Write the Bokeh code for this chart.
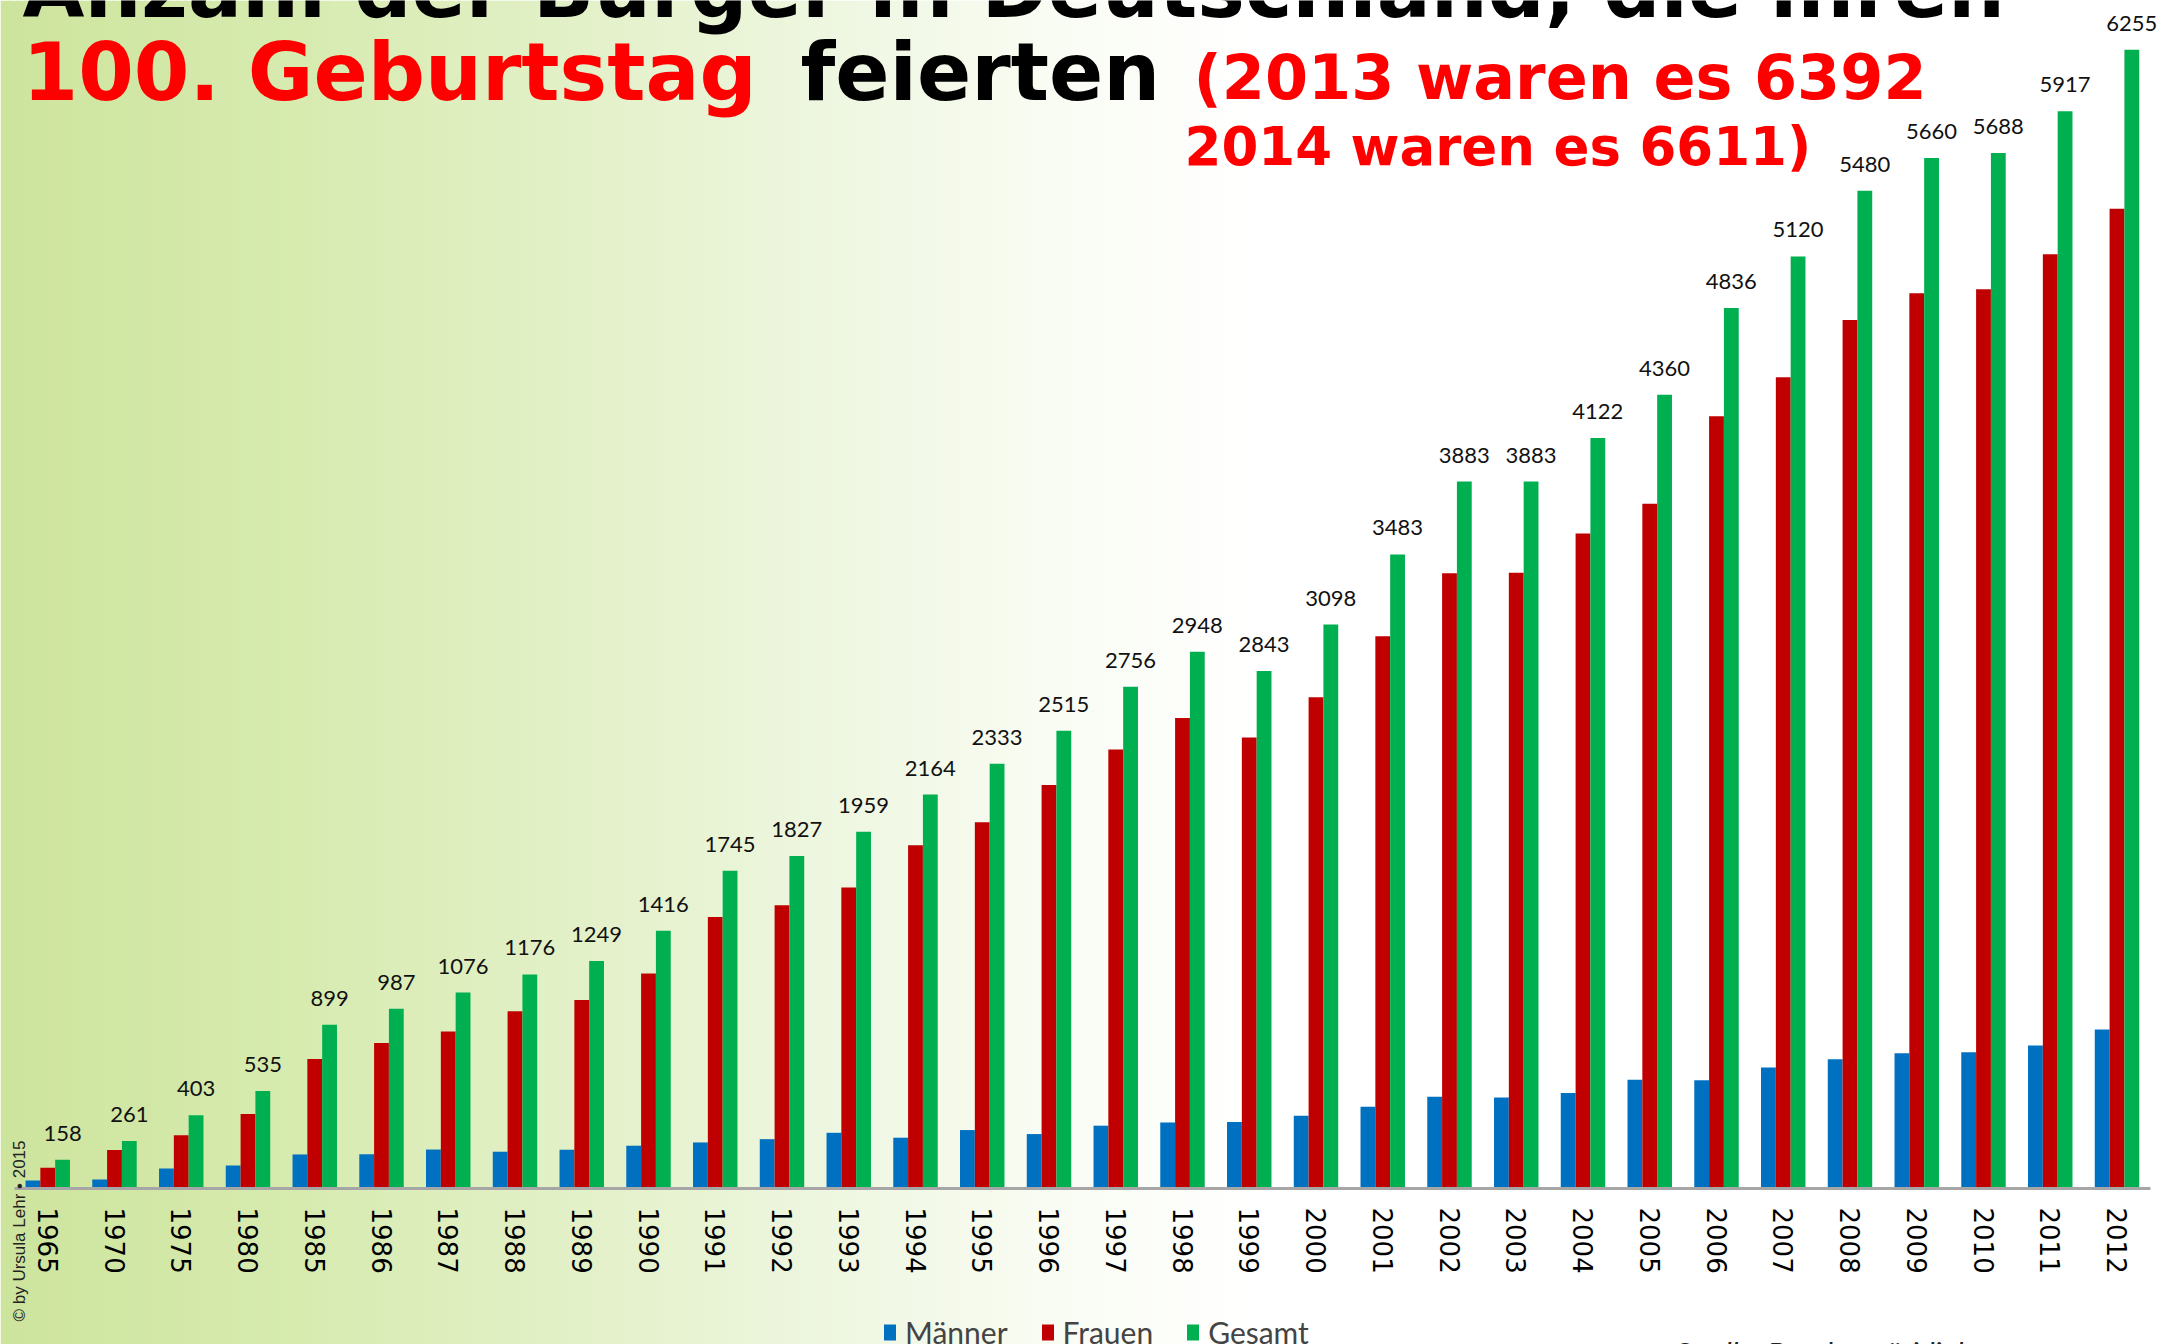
import math
from bokeh.plotting import figure
from bokeh.models import (ColumnDataSource, Range1d, FixedTicker, LabelSet, Label,
                          Legend, LegendItem)
from bokeh.core.properties import value
from bokeh.transform import dodge
from bokeh.embed import file_html
from bokeh.resources import INLINE

# ---------------- data ----------------
years = ["1965", "1970", "1975", "1980", "1985", "1986", "1987", "1988", "1989", "1990",
         "1991", "1992", "1993", "1994", "1995", "1996", "1997", "1998", "1999", "2000",
         "2001", "2002", "2003", "2004", "2005", "2006", "2007", "2008", "2009", "2010",
         "2011", "2012"]
gesamt = [158, 261, 403, 535, 899, 987, 1076, 1176, 1249, 1416,
          1745, 1827, 1959, 2164, 2333, 2515, 2756, 2948, 2843, 3098,
          3483, 3883, 3883, 4122, 4360, 4836, 5120, 5480, 5660, 5688,
          5917, 6255]
maenner = [44, 50, 110, 126, 187, 188, 214, 202, 213, 235,
           253, 271, 306, 279, 321, 299, 345, 363, 365, 400,
           449, 504, 500, 524, 598, 594, 664, 710, 743, 748,
           785, 873]
frauen = [114, 211, 293, 409, 712, 799, 862, 974, 1036, 1181,
          1492, 1556, 1653, 1885, 2012, 2216, 2411, 2585, 2478, 2698,
          3034, 3379, 3383, 3598, 3762, 4242, 4456, 4770, 4917, 4940,
          5132, 5382]
series_names = ["Männer", "Frauen", "Gesamt"]
title_line1 = "Anzahl der Bürger in Deutschland, die ihren"
title_red = "100. Geburtstag"
title_black = "feierten"
note_line1 = "(2013 waren es 6392"
note_line2 = "2014  waren es 6611)"
copyright_text = "© by Ursula Lehr • 2015"
source_text = "Quelle: Bundespräsidialamt"

# ---------------- layout ----------------
W, H = 2161, 1344
STEP = 66.75            # px per category
X0 = 47.25              # px of first category centre
Y_BASE = 1188           # px of baseline from top
UPP = 5.493             # data units per px

x_start = -X0 / STEP
x_end = (W - X0) / STEP
y_end = Y_BASE * UPP
y_start = -(H - Y_BASE) * UPP

BLUE, RED, GREEN = "#0070c0", "#c00000", "#00b050"

p = figure(width=W, height=H, output_backend="svg", toolbar_location=None,
           x_range=Range1d(x_start, x_end), y_range=Range1d(y_start, y_end),
           y_axis_location=None, min_border=0)
p.outline_line_color = None
p.grid.visible = False
p.background_fill_color = "white"
p.border_fill_color = "white"

# background gradient (styling): vertical strips
stops = [(0, (205, 228, 157)), (300, (215, 235, 176)), (600, (228, 241, 202)),
         (850, (239, 247, 226)), (1050, (249, 252, 243)), (1250, (255, 255, 255))]

def col_at(px):
    for (a, ca), (b, cb) in zip(stops[:-1], stops[1:]):
        if a <= px <= b:
            t = (px - a) / (b - a)
            c = tuple(int(round(ca[k] + (cb[k] - ca[k]) * t)) for k in range(3))
            return "#%02x%02x%02x" % c
    return "#ffffff"

strip_px = 8
lefts, rights, cols = [], [], []
for s in range(0, 1260, strip_px):
    lefts.append((s - X0) / STEP)
    rights.append((s + strip_px + 2 - X0) / STEP)
    cols.append(col_at(s + strip_px / 2))
p.quad(left=lefts, right=rights, bottom=y_start, top=y_end, fill_color=cols, line_color=None)

# bars
xs = list(range(len(years)))
src = ColumnDataSource(dict(x=xs, year=years, m=maenner, f=frauen, g=gesamt,
                            glabel=[str(v) for v in gesamt]))
bw = 0.222
r_m = p.vbar(x=dodge("x", -bw, range=p.x_range), top="m", width=bw, source=src,
             fill_color=BLUE, line_color=None)
r_f = p.vbar(x=dodge("x", 0, range=p.x_range), top="f", width=bw, source=src,
             fill_color=RED, line_color=None)
r_g = p.vbar(x=dodge("x", bw, range=p.x_range), top="g", width=bw, source=src,
             fill_color=GREEN, line_color=None)

labels = LabelSet(x=dodge("x", bw, range=p.x_range), y="g", text="glabel", source=src,
                  y_offset=19, text_align="center", text_baseline="alphabetic",
                  text_font=value("Lato"), text_font_size=value("22px"),
                  text_color="#111111")
p.add_layout(labels)

# x axis at the baseline
ax = p.xaxis[0]
ax.fixed_location = 0
ax.ticker = FixedTicker(ticks=xs)
ax.major_label_overrides = {i: y for i, y in zip(xs, years)}
ax.major_label_orientation = -math.pi / 2
ax.major_label_text_font = "DejaVu Sans"
ax.major_label_text_font_size = "26px"
ax.major_label_text_color = "black"
ax.major_label_standoff = 13
ax.major_tick_line_color = None
ax.minor_tick_line_color = None
ax.axis_line_color = "#a6a6a6"
ax.axis_line_width = 3
ax.bounds = (-0.5, len(years) - 0.5)

# legend
legend = Legend(items=[LegendItem(label=series_names[0], renderers=[r_m]),
                       LegendItem(label=series_names[1], renderers=[r_f]),
                       LegendItem(label=series_names[2], renderers=[r_g])],
                orientation="horizontal", location=(882, -6),
                padding=0, margin=0, spacing=32, label_standoff=8,
                glyph_width=15, glyph_height=20,
                label_text_font="Lato", label_text_font_size="30px",
                border_line_color=None, background_fill_alpha=0)
p.add_layout(legend)

# titles
def lab(text, x, y_from_top, size, color, font="DejaVu Sans", style="bold", **kw):
    p.add_layout(Label(x=x, y=H - y_from_top, x_units="screen", y_units="screen",
                       text=text, text_font=font, text_font_style=style,
                       text_font_size=size, text_color=color,
                       text_baseline=kw.pop("baseline", "alphabetic"),
                       text_align=kw.pop("align", "left"), **kw))

lab(title_line1, 22, -11, "80px", "black")
lab(title_red, 22, 72, "80px", "#ff0000")
lab(title_black, 800, 72, "80px", "black")
lab(note_line1, 1193, 77, "62px", "#ff0000")
lab(note_line2, 1184, 146, "53px", "#ff0000")
lab(copyright_text, 19, 1321, "17px", "#222222", font="Liberation Sans", style="normal",
    baseline="middle", angle=math.pi / 2)
lab(source_text, 1672, 1334, "30px", "#222222", font="Lato", style="italic",
    baseline="top")

open("out.html", "w").write(file_html(p, INLINE))
